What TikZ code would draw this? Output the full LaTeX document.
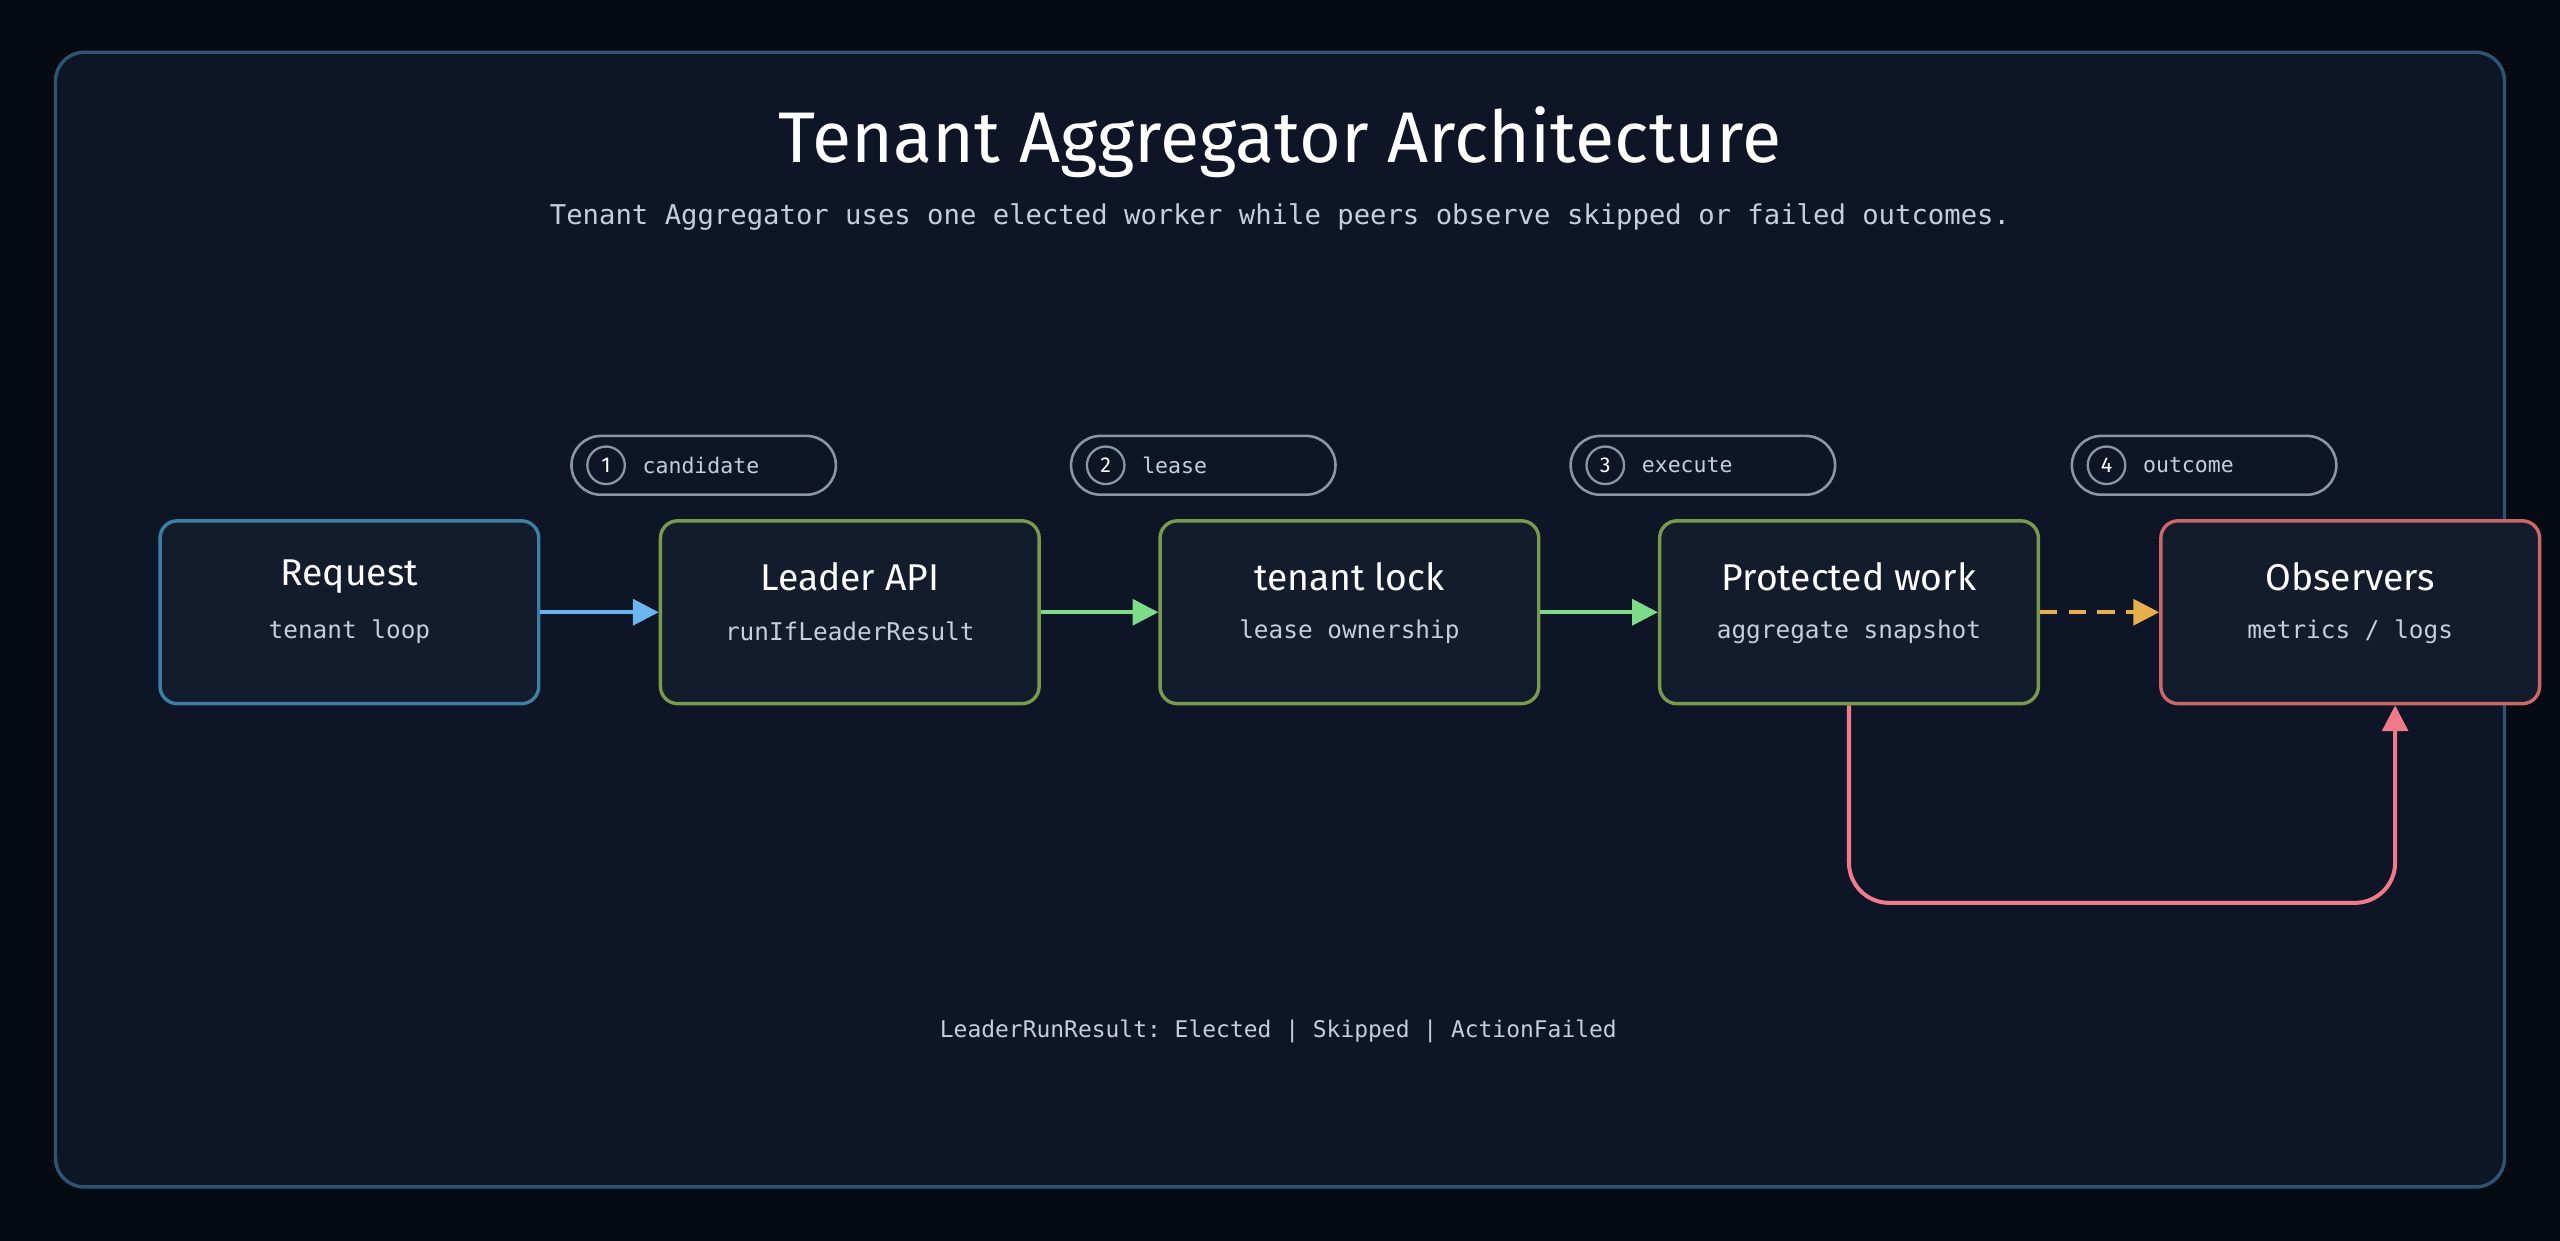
\documentclass[tikz,border=0pt]{standalone}
\usepackage{fontspec}
\setmainfont{Fira Sans}
\setmonofont{DejaVu Sans Mono}
\usetikzlibrary{arrows.meta, positioning, calc}
\definecolor{pagebg}{HTML}{060A12}
\definecolor{panelbg}{HTML}{0D1526}
\definecolor{panelline}{HTML}{2E5470}
\definecolor{boxbg}{HTML}{121C2D}
\definecolor{bluebd}{HTML}{3D7FA3}
\definecolor{greenbd}{HTML}{789A4C}
\definecolor{redbd}{HTML}{C86868}
\definecolor{bluearr}{HTML}{6CB6F0}
\definecolor{greenarr}{HTML}{7DDC8A}
\definecolor{orangearr}{HTML}{E8B04A}
\definecolor{redarr}{HTML}{F07A8A}
\definecolor{subtxt}{HTML}{C4CEDC}
\definecolor{pillbd}{HTML}{8A96A6}
\tikzset{
  block/.style = {draw, line width = 1.2pt, rounded corners = 6pt, fill = boxbg,
    minimum width = 4.64cm, minimum height = 2.24cm},
  head/.style = {font = \fontsize{13}{15}\selectfont, text = white},
  sub/.style = {font = \ttfamily\fontsize{8.5}{10}\selectfont, text = subtxt},
  pill/.style = {draw = pillbd, line width = 0.9pt, rounded corners = 0.36cm, fill = panelbg,
    minimum width = 3.24cm, minimum height = 0.72cm},
  num/.style = {circle, draw = pillbd, line width = 0.8pt, minimum size = 0.46cm, inner sep = 0pt,
    font = \fontsize{7.5}{9}\selectfont, text = white},
  pilltxt/.style = {font = \ttfamily\fontsize{7.5}{9}\selectfont, text = subtxt, anchor = west},
  flow/.style = {line width = 1.4pt, -{Triangle[length = 9pt, width = 9pt]}}
}
\begin{document}
\begin{tikzpicture}[x = 0.02cm, y = -0.02cm]
\fill[pagebg] (0,0) rectangle (1568,760);
\useasboundingbox (0,0) rectangle (1568,760);
\draw[panelline, fill = panelbg, line width = 1.2pt, rounded corners = 10pt] (34,32) rectangle (1534,727);

\node[font = \fontsize{25}{30}\selectfont, text = white] (title) at (784,87) {Tenant Aggregator Architecture};
\node[font = \ttfamily\fontsize{9.5}{11}\selectfont, text = subtxt] (subtitle) at (784,133)
  {Tenant Aggregator uses one elected worker while peers observe skipped or failed outcomes.};

% blocks
\node[block, draw = bluebd]  (req)  at (214,375) {};
\node[block, draw = greenbd] (api)  at (520.5,375) {};
\node[block, draw = greenbd] (lock) at (826.5,375) {};
\node[block, draw = greenbd] (work) at (1132.5,375) {};
\node[block, draw = redbd]   (obs)  at (1439.5,375) {};
\foreach \n/\h/\s in {req/Request/tenant loop, api/Leader API/runIfLeaderResult,
    lock/tenant lock/lease ownership, work/Protected work/aggregate snapshot,
    obs/Observers/{metrics / logs}} {
  \node[head] at ($(\n.center)+(0,-22)$) {\h};
  \node[sub]  at ($(\n.center)+(0,12)$) {\s};
}

% steps
\foreach \x/\k/\t in {431/1/candidate, 737/2/lease, 1043/3/execute, 1350/4/outcome} {
  \node[pill] (pill\k) at (\x,285) {};
  \node[num] (num\k) at ($(pill\k.west)+(22,0)$) {\k};
  \node[pilltxt] at ($(num\k.east)+(4,0)$) {\t};
}

% connectors
\draw[flow, bluearr]  (req) -- (api);
\draw[flow, greenarr] (api) -- (lock);
\draw[flow, greenarr] (lock) -- (work);
\draw[flow, orangearr, dashed, dash pattern = on 6pt off 4pt] (work) -- (obs);
\coordinate (loopa) at (1132.5,553);
\coordinate (loopb) at (1467,553);
\draw[flow, redarr, rounded corners = 14pt] (work.south) -- (loopa) -- (loopb) -- (obs.south -| loopb);

\node[font = \ttfamily\fontsize{8}{10}\selectfont, text = subtxt] (legend) at (783,632)
  {LeaderRunResult: Elected | Skipped | ActionFailed};
\end{tikzpicture}
\end{document}
